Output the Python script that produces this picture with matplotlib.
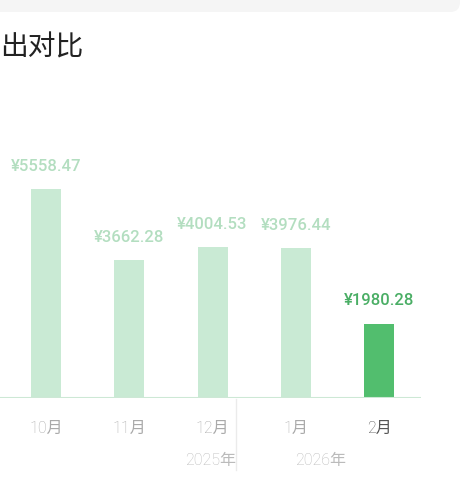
import matplotlib
matplotlib.use("Agg")
import matplotlib.pyplot as plt
from matplotlib.patches import FancyBboxPatch

months = ["10月", "11月", "12月", "1月", "2月"]
values = [5558.47, 3662.28, 4004.53, 3976.44, 1980.28]
value_labels = ["¥5558.47", "¥3662.28", "¥4004.53", "¥3976.44", "¥1980.28"]
years = ["2025年", "2026年"]
title = "出对比"

W, H = 475, 500
fig = plt.figure(figsize=(W / 100, H / 100), dpi=100)
fig.patch.set_facecolor("white")

fam = ["Roboto", "Noto Sans CJK SC", "DejaVu Sans"]
cjk = ["Noto Sans CJK SC", "DejaVu Sans"]

# top gray card strip
fig.patches.append(FancyBboxPatch((-20 / W, 1 - 12 / H), 480 / W, 40 / H,
                                  boxstyle="round,pad=0,rounding_size=0.02",
                                  transform=fig.transFigure, facecolor="#F5F5F5",
                                  edgecolor="none", zorder=0))
fig.text(0, 1 - 47 / H, title, fontsize=20, family=cjk, color="#222222",
         ha="left", va="center")

# axes: x pixel 0..421, baseline at 398 px from top
ax = fig.add_axes([0, 102 / H, 421 / W, 298 / H])
step = 83.25
ax.set_xlim(-46 / step, (421 - 46) / step)
ax.set_ylim(0, 298 / 0.0376)
ax.axis("off")

light = "#C9EAD4"
dark = "#52BE6E"
colors = [light] * (len(values) - 1) + [dark]
label_colors = ["#B3DEC0"] * (len(values) - 1) + ["#4AAE65"]
xs = list(range(len(values)))
ax.bar(xs, values, width=30 / step, color=colors, zorder=2)
ax.axhline(0, color="#CDE8D5", lw=1.5, zorder=3)

for x, v, lab, c in zip(xs, values, value_labels, label_colors):
    ax.annotate(lab, (x, v), xytext=(0, 11), textcoords="offset points",
                ha="center", va="bottom", fontsize=12, family=fam,
                fontweight="medium", color=c)

# month labels
for i, m in enumerate(months):
    col = "#555555" if i == len(months) - 1 else "#AAAAAA"
    fig.text((46 + step * i) / W, 1 - 428 / H, m, fontsize=11.5, family=fam,
             fontweight="light", color=col, ha="center", va="center")

# separator
sep_x = 236 / W
fig.add_artist(plt.Line2D([sep_x, sep_x], [1 - 399 / H, 1 - 470 / H],
                          transform=fig.transFigure, color="#EBEBEB", lw=1))

fig.text(236 / W, 1 - 461 / H, years[0], fontsize=11.5, family=fam,
         fontweight="light", color="#BBBBBB", ha="right", va="center")
fig.text(321 / W, 1 - 461 / H, years[1], fontsize=11.5, family=fam,
         fontweight="light", color="#BBBBBB", ha="center", va="center")

fig.savefig("out.png", dpi=100)
